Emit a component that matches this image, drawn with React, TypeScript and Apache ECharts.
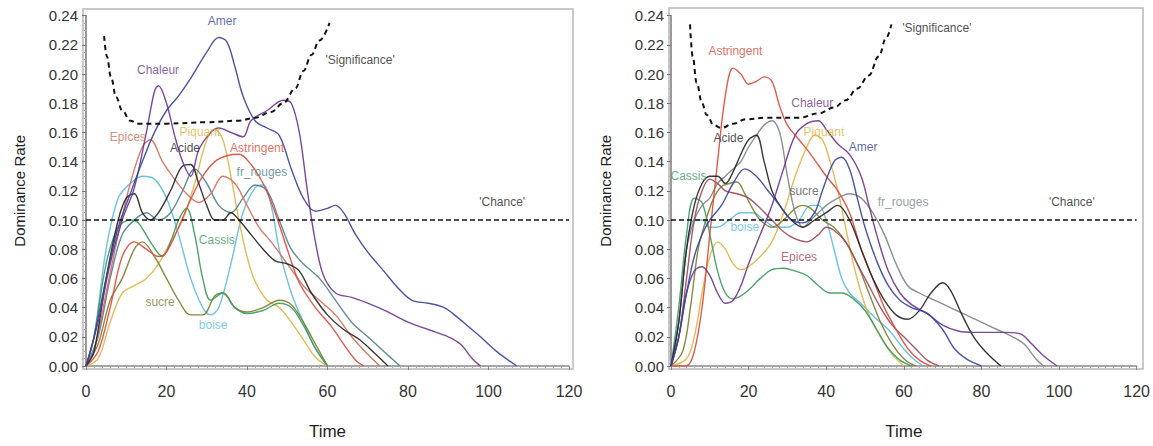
import React, { useEffect, useRef } from "react";
import * as echarts from "echarts";

// ---------- Left panel data (time, dominance rate) ----------
const L_amer = [[0,0],[2,0.02],[5,0.06],[8,0.095],[11,0.118],[14,0.14],[17,0.16],[20,0.175],[23,0.185],[26,0.197],[30,0.215],[33,0.225],[35,0.222],[37,0.205],[39,0.185],[42,0.168],[45,0.163],[48,0.158],[51,0.135],[54,0.115],[57,0.106],[60,0.108],[62,0.11],[64,0.105],[67,0.09],[70,0.078],[74,0.065],[78,0.052],[81,0.045],[85,0.043],[89,0.04],[92,0.034],[95,0.027],[98,0.02],[102,0.01],[107,0]];
const L_chaleur = [[0,0],[3,0.03],[6,0.07],[9,0.1],[12,0.122],[15,0.16],[17,0.188],[18,0.192],[20,0.18],[22,0.158],[24,0.14],[26,0.13],[28,0.148],[31,0.16],[33,0.163],[36,0.16],[39,0.157],[41,0.168],[45,0.175],[49,0.182],[51,0.18],[53,0.16],[55,0.12],[57,0.085],[59,0.062],[62,0.05],[66,0.047],[70,0.043],[75,0.037],[80,0.03],[85,0.025],[90,0.02],[93,0.015],[96,0.005],[98,0]];
const L_epices = [[0,0],[2,0.01],[5,0.05],[8,0.09],[11,0.125],[14,0.15],[16,0.155],[19,0.14],[22,0.128],[25,0.118],[28,0.112],[31,0.118],[34,0.13],[37,0.125],[40,0.11],[43,0.095],[46,0.085],[50,0.07],[54,0.055],[58,0.045],[62,0.035],[66,0.02],[70,0.008],[73,0]];
const L_piquant = [[0,0],[3,0.005],[6,0.03],[9,0.05],[12,0.055],[15,0.06],[18,0.07],[21,0.085],[24,0.1],[27,0.125],[30,0.155],[32,0.162],[34,0.155],[36,0.13],[38,0.1],[40,0.075],[42,0.058],[45,0.045],[48,0.04],[51,0.03],[54,0.018],[57,0.006],[60,0]];
const L_acide = [[0,0],[2,0.01],[5,0.06],[8,0.1],[10,0.115],[12,0.118],[14,0.105],[16,0.1],[18,0.105],[21,0.12],[24,0.137],[26,0.138],[28,0.125],[30,0.11],[32,0.1],[34,0.1],[36,0.105],[38,0.1],[41,0.09],[44,0.08],[47,0.072],[50,0.07],[53,0.065],[56,0.05],[60,0.035],[64,0.025],[68,0.018],[72,0.008],[75,0]];
const L_astringent = [[0,0],[3,0.01],[6,0.04],[9,0.075],[12,0.085],[15,0.08],[18,0.075],[20,0.078],[23,0.095],[26,0.114],[29,0.13],[32,0.14],[35,0.144],[38,0.145],[41,0.138],[44,0.125],[47,0.105],[50,0.08],[53,0.057],[57,0.04],[61,0.027],[64,0.015],[67,0.004],[69,0]];
const L_frrouges = [[0,0],[3,0.02],[6,0.06],[9,0.09],[12,0.1],[15,0.105],[18,0.1],[21,0.105],[24,0.12],[27,0.135],[30,0.125],[33,0.11],[36,0.105],[39,0.115],[42,0.124],[45,0.12],[48,0.1],[51,0.08],[54,0.07],[58,0.06],[62,0.045],[66,0.03],[70,0.02],[74,0.01],[78,0]];
const L_cassis = [[0,0],[2,0.02],[5,0.07],[8,0.095],[11,0.1],[13,0.098],[16,0.085],[19,0.075],[21,0.085],[23,0.1],[25,0.108],[27,0.09],[29,0.06],[31,0.045],[34,0.05],[37,0.04],[40,0.036],[44,0.038],[48,0.043],[51,0.04],[54,0.028],[57,0.012],[60,0]];
const L_sucre = [[0,0],[3,0.015],[6,0.045],[9,0.06],[12,0.08],[14,0.085],[17,0.075],[20,0.06],[23,0.045],[26,0.035],[29,0.035],[32,0.048],[34,0.05],[37,0.04],[40,0.037],[44,0.04],[48,0.045],[51,0.042],[54,0.03],[57,0.015],[60,0]];
const L_boise = [[0,0],[2,0.02],[5,0.08],[8,0.115],[11,0.125],[14,0.13],[17,0.128],[20,0.115],[23,0.09],[26,0.06],[29,0.04],[31,0.035],[33,0.04],[36,0.07],[39,0.105],[42,0.122],[44,0.124],[46,0.11],[48,0.08],[51,0.05],[54,0.03],[57,0.012],[60,0]];
const L_signif = [[4.5,0.226],[5.2,0.212],[6.2,0.198],[7.5,0.184],[9,0.175],[11,0.168],[13,0.166],[20,0.166],[30,0.167],[38,0.168],[42,0.17],[46,0.174],[49,0.18],[52,0.19],[54,0.202],[56,0.213],[58,0.223],[60.5,0.235]];

// ---------- Right panel data ----------
const R_astringent = [[0,0],[4,0],[6,0.01],[8,0.04],[10,0.09],[12,0.14],[14,0.185],[16,0.204],[18,0.2],[20,0.193],[22,0.195],[24,0.198],[26,0.195],[28,0.178],[30,0.165],[33,0.155],[36,0.145],[40,0.13],[43,0.12],[46,0.105],[49,0.08],[52,0.06],[55,0.04],[58,0.025],[61,0.012],[64,0.004],[67,0]];
const R_acide = [[0,0],[2,0.03],[4,0.08],[6,0.11],[8,0.125],[10,0.13],[12,0.13],[14,0.125],[16,0.133],[18,0.145],[20,0.155],[22,0.158],[24,0.14],[26,0.12],[28,0.11],[31,0.1],[34,0.095],[37,0.1],[40,0.105],[43,0.11],[46,0.1],[49,0.08],[52,0.06],[55,0.045],[58,0.035],[61,0.032],[64,0.038],[67,0.05],[70,0.057],[72,0.052],[75,0.035],[78,0.02],[81,0.01],[85,0]];
const R_cassis = [[0,0],[2,0.04],[4,0.09],[6,0.115],[8,0.112],[10,0.09],[12,0.065],[14,0.05],[16,0.046],[18,0.048],[20,0.052],[23,0.06],[26,0.066],[29,0.067],[32,0.065],[35,0.062],[38,0.055],[41,0.05],[44,0.05],[47,0.046],[50,0.038],[53,0.025],[56,0.012],[59,0.004],[62,0]];
const R_chaleur = [[0,0],[2,0.02],[4,0.05],[6,0.065],[8,0.068],[10,0.062],[12,0.05],[14,0.043],[16,0.045],[18,0.055],[20,0.07],[23,0.09],[26,0.11],[29,0.135],[32,0.158],[35,0.166],[38,0.168],[40,0.162],[43,0.152],[46,0.145],[49,0.13],[51,0.11],[53,0.09],[56,0.065],[59,0.05],[62,0.042],[66,0.036],[70,0.028],[74,0.024],[78,0.023],[82,0.023],[86,0.023],[90,0.022],[93,0.015],[96,0.007],[99.5,0]];
const R_piquant = [[0,0],[4,0.005],[6,0.02],[8,0.05],[10,0.075],[12,0.085],[14,0.08],[16,0.07],[18,0.066],[20,0.068],[23,0.075],[26,0.085],[29,0.105],[32,0.13],[35,0.15],[37,0.158],[39,0.155],[41,0.14],[43,0.12],[45,0.095],[47,0.07],[49,0.05],[51,0.035],[54,0.02],[57,0.008],[60,0]];
const R_amer = [[0,0],[2,0.02],[4,0.05],[6,0.075],[8,0.09],[10,0.1],[13,0.11],[16,0.125],[19,0.135],[22,0.13],[25,0.12],[28,0.11],[31,0.1],[34,0.098],[37,0.105],[39,0.12],[42,0.14],[44,0.143],[46,0.135],[48,0.115],[50,0.095],[53,0.072],[56,0.055],[59,0.045],[62,0.04],[66,0.036],[70,0.025],[73,0.012],[76,0.005],[80,0]];
const R_sucre = [[0,0],[3,0.01],[5,0.04],[7,0.08],[9,0.1],[11,0.115],[13,0.123],[15,0.125],[17,0.126],[19,0.118],[21,0.108],[23,0.1],[26,0.095],[29,0.1],[32,0.108],[34,0.11],[36,0.108],[39,0.1],[42,0.095],[45,0.085],[48,0.07],[51,0.05],[54,0.03],[57,0.015],[60,0.005],[63,0]];
const R_frrouges = [[0,0],[2,0.03],[4,0.08],[6,0.1],[8,0.11],[10,0.115],[12,0.125],[14,0.13],[16,0.135],[18,0.14],[20,0.15],[22,0.158],[24,0.165],[26,0.168],[28,0.16],[30,0.13],[32,0.105],[34,0.095],[36,0.1],[38,0.105],[40,0.11],[43,0.115],[46,0.118],[49,0.115],[52,0.105],[55,0.09],[58,0.07],[61,0.055],[64,0.05],[68,0.045],[72,0.04],[76,0.035],[80,0.03],[84,0.025],[88,0.02],[91,0.015],[94,0.005],[96,0]];
const R_boise = [[0,0],[2,0.03],[4,0.08],[6,0.1],[8,0.1],[10,0.095],[12,0.095],[15,0.1],[18,0.105],[21,0.105],[24,0.1],[27,0.095],[30,0.095],[33,0.1],[36,0.11],[38,0.11],[40,0.1],[42,0.08],[44,0.06],[46,0.05],[48,0.045],[50,0.04],[53,0.032],[56,0.025],[59,0.015],[62,0.006],[65,0]];
const R_epices = [[0,0],[2,0.02],[4,0.06],[6,0.1],[8,0.12],[10,0.128],[12,0.125],[14,0.12],[17,0.118],[20,0.115],[23,0.108],[26,0.1],[29,0.092],[32,0.087],[35,0.085],[38,0.09],[40,0.095],[42,0.093],[45,0.085],[48,0.07],[51,0.055],[54,0.04],[57,0.028],[60,0.02],[63,0.012],[66,0.004],[69,0]];
const R_signif = [[4.9,0.234],[5.6,0.212],[6.6,0.194],[8,0.18],[9.2,0.172],[11,0.165],[13,0.163],[16,0.166],[19.4,0.169],[24.5,0.17],[33,0.17],[38,0.173],[42,0.177],[45,0.182],[48,0.19],[51,0.199],[53.5,0.212],[55.5,0.225],[56.8,0.234]];

const CHANCE = 0.1;
const X_TICKS = [0, 20, 40, 60, 80, 100, 120];

// Label texts, positions (time, rate) and colours
const L_labelText = ["Amer", "Chaleur", "Epices", "Piquant", "Acide", "Astringent", "fr_rouges", "Cassis", "sucre", "boise", "'Significance'", "'Chance'"];
const L_labelT = [33.8, 17.9, 10.4, 28.3, 24.6, 42.5, 43.7, 32.5, 18.4, 31.6, 68.1, 103.4];
const L_labelV = [0.236, 0.203, 0.157, 0.160, 0.149, 0.149, 0.133, 0.086, 0.044, 0.028, 0.2096, 0.112];
const R_labelText = ["Astringent", "Chaleur", "Piquant", "Acide", "Amer", "Cassis", "sucre", "fr_rouges", "boise", "Epices", "'Significance'", "'Chance'"];
const R_labelT = [16.6, 36.4, 39.4, 14.8, 49.5, 4.5, 34.3, 59.8, 19, 33, 68.5, 103.3];
const R_labelV = [0.216, 0.18, 0.16, 0.156, 0.15, 0.13, 0.12, 0.112, 0.095, 0.075, 0.2315, 0.112];

const C = {
  amer: "#34449a",
  chaleur: "#6f338e",
  epices: "#d0705a",
  epicesR: "#a04658",
  piquant: "#e2b444",
  acide: "#222222",
  astringent: "#e0483a",
  frrouges: "#4d8190",
  frrougesR: "#7c848c",
  cassis: "#3a9a5a",
  sucre: "#7c7c2c",
  sucreR: "#555555",
  boise: "#5cbde0",
  black: "#222222",
};
const L_labelColor = [C.amer, C.chaleur, C.epices, C.piquant, C.acide, C.astringent, C.frrouges, C.cassis, C.sucre, C.boise, C.black, C.black];
const R_labelColor = [C.astringent, C.chaleur, C.piquant, C.acide, C.amer, C.cassis, C.sucreR, C.frrougesR, C.boise, C.epicesR, C.black, C.black];

const FONT = "Liberation Sans, Arial, Helvetica, sans-serif";

function curve(data: number[][], color: string, idx: number, width = 1.4) {
  return {
    type: "line",
    data,
    xAxisIndex: idx,
    yAxisIndex: idx,
    smooth: 0.35,
    showSymbol: false,
    symbol: "none",
    lineStyle: { color, width, opacity: 0.9 },
    silent: true,
    z: 3,
  };
}

function dashed(data: number[][], idx: number, width: number, dash: number[], smooth: number | boolean) {
  return {
    type: "line",
    data,
    xAxisIndex: idx,
    yAxisIndex: idx,
    smooth,
    smoothMonotone: "x",
    showSymbol: false,
    symbol: "none",
    lineStyle: { color: "#111", width, type: dash },
    silent: true,
    z: 4,
  };
}

function labels(text: string[], t: number[], v: number[], colors: string[], idx: number) {
  return {
    type: "scatter",
    xAxisIndex: idx,
    yAxisIndex: idx,
    symbolSize: 0,
    silent: true,
    z: 6,
    data: text.map((s, i) => ({
      value: [t[i], v[i]],
      label: {
        show: true,
        position: "inside",
        formatter: s,
        color: colors[i],
        fontSize: 12,
        fontFamily: FONT,
        letterSpacing: -0.3,
      },
    })),
  };
}

function xAxis(idx: number) {
  return {
    type: "value",
    gridIndex: idx,
    min: 0,
    max: 120,
    interval: 20,
    offset: 3,
    name: "Time",
    nameLocation: "middle",
    nameGap: 54,
    nameTextStyle: { fontSize: 17, color: "#222", fontFamily: FONT },
    axisLine: { show: true, lineStyle: { color: "#888", width: 1.5 } },
    axisTick: { show: true, length: 4, lineStyle: { color: "#888" } },
    minorTick: { show: true, splitNumber: 10, length: 2, lineStyle: { color: "#aaa" } },
    axisLabel: { fontSize: 16, color: "#333", fontFamily: FONT, margin: 14, formatter: (val: number) => (X_TICKS.includes(val) ? String(val) : "") },
    splitLine: { show: false },
  };
}

function yAxis(idx: number, offset: number) {
  return {
    type: "value",
    gridIndex: idx,
    min: 0,
    max: 0.24,
    interval: 0.02,
    offset,
    name: "Dominance Rate",
    nameLocation: "middle",
    nameRotate: 90,
    nameGap: 56,
    nameTextStyle: { fontSize: 15, color: "#222", fontFamily: FONT },
    axisLine: { show: true, lineStyle: { color: "#777", width: 1.5 } },
    axisTick: { show: true, length: 4, lineStyle: { color: "#777" } },
    minorTick: { show: true, splitNumber: 4, length: 2, lineStyle: { color: "#aaa" } },
    axisLabel: { fontSize: 15, color: "#333", fontFamily: FONT, margin: 5, formatter: (val: number) => val.toFixed(2) },
    splitLine: { show: false },
  };
}

export default function App() {
  const ref = useRef<HTMLDivElement>(null);
  useEffect(() => {
    if (!ref.current) return;
    const chart = echarts.init(ref.current, null, { renderer: "svg" });
    const option = {
      animation: false,
      backgroundColor: "#fff",
      textStyle: { fontFamily: FONT },
      grid: [
        { left: 86, right: 1153 - 569, top: 15.6, bottom: 446 - 366, containLabel: false },
        { left: 671, right: 1153 - 1140, top: 15.6, bottom: 446 - 366, containLabel: false },
      ],
      xAxis: [xAxis(0), xAxis(1)],
      yAxis: [yAxis(0, 3), yAxis(1, 2)],
      graphic: [
        { type: "rect", shape: { x: 83, y: 9, width: 490, height: 360 }, style: { fill: "none", stroke: "#b8b8b8", lineWidth: 1.5 }, z: 0, silent: true },
        { type: "rect", shape: { x: 669, y: 8, width: 474, height: 361 }, style: { fill: "none", stroke: "#b8b8b8", lineWidth: 1.5 }, z: 0, silent: true },
      ],
      series: [
        dashed([[0, CHANCE], [120, CHANCE]], 0, 1.6, [5, 3], false),
        dashed(L_signif, 0, 2, [5, 4], 0.4),
        curve(L_boise, C.boise, 0),
        curve(L_piquant, C.piquant, 0),
        curve(L_sucre, C.sucre, 0),
        curve(L_cassis, C.cassis, 0),
        curve(L_frrouges, C.frrouges, 0),
        curve(L_epices, C.epices, 0),
        curve(L_astringent, C.astringent, 0),
        curve(L_acide, C.acide, 0),
        curve(L_chaleur, C.chaleur, 0),
        curve(L_amer, C.amer, 0),
        labels(L_labelText, L_labelT, L_labelV, L_labelColor, 0),

        dashed([[0, CHANCE], [120, CHANCE]], 1, 1.6, [5, 3], false),
        dashed(R_signif, 1, 2, [5, 4], 0.4),
        curve(R_boise, C.boise, 1),
        curve(R_piquant, C.piquant, 1),
        curve(R_sucre, C.sucre, 1),
        curve(R_cassis, C.cassis, 1),
        curve(R_frrouges, C.frrougesR, 1),
        curve(R_epices, C.epicesR, 1),
        curve(R_astringent, C.astringent, 1),
        curve(R_acide, C.acide, 1),
        curve(R_chaleur, C.chaleur, 1),
        curve(R_amer, C.amer, 1),
        labels(R_labelText, R_labelT, R_labelV, R_labelColor, 1),
      ],
    };
    chart.setOption(option as any);
    return () => chart.dispose();
  }, []);
  return <div ref={ref} style={{ width: 1153, height: 446, position: "absolute", left: 0, top: 0 }} />;
}
